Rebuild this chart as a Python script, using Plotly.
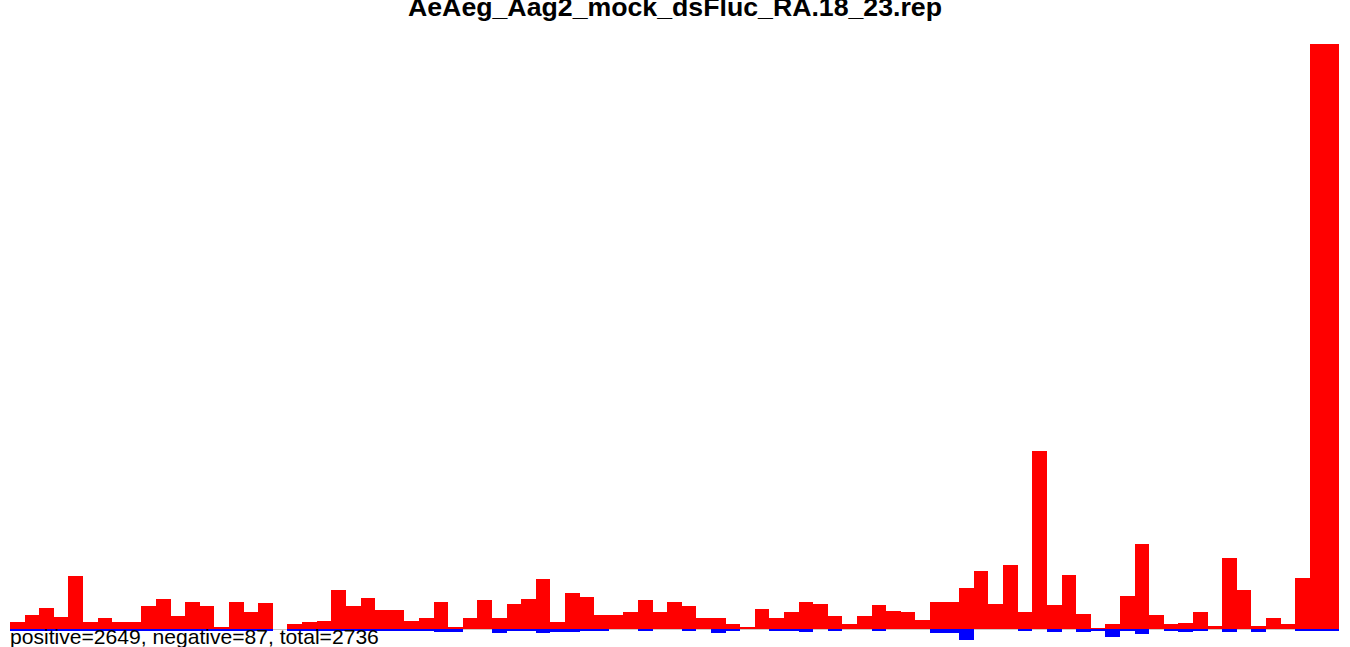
import plotly.graph_objects as go

title_text = "AeAeg_Aag2_mock_dsFluc_RA.18_23.rep"
footer_text = "positive=2649, negative=87, total=2736"

positions = list(range(91))
positive = [6, 12, 18, 10, 44, 6, 9, 6, 6, 19,
            25, 11, 23, 19, 2, 23, 14, 22, 0, 4,
            6, 7, 33, 19, 26, 16, 16, 7, 9, 23,
            2, 9, 24, 9, 21, 25, 42, 6, 30, 27,
            12, 12, 14, 24, 14, 23, 19, 9, 9, 4,
            2, 17, 9, 14, 23, 21, 11, 4, 11, 20,
            15, 14, 8, 23, 23, 34, 48, 21, 53, 14,
            148, 20, 45, 13, 1, 4, 28, 71, 12, 4,
            5, 14, 3, 59, 33, 3, 9, 4, 43, 486,
            486]
negative = [1, 1, 1, 1, 1, 1, 1, 1, 1, 1,
            1, 1, 1, 1, 1, 1, 1, 1, 0, 1,
            1, 1, 1, 1, 1, 1, 1, 1, 1, 2,
            2, 0, 0, 3, 1, 1, 3, 2, 2, 1,
            1, 0, 0, 1, 0, 0, 1, 0, 3, 1,
            0, 0, 1, 1, 2, 0, 1, 0, 0, 1,
            0, 0, 0, 3, 3, 9, 0, 0, 0, 1,
            0, 2, 0, 2, 1, 6, 1, 4, 0, 1,
            2, 1, 0, 2, 0, 2, 0, 0, 1, 1,
            1]
neg_vals = [-v for v in negative]

fig = go.Figure()
fig.add_trace(go.Bar(x=positions, y=positive, marker=dict(color="#FF0000", line=dict(width=0)),
                     showlegend=False, hoverinfo="x+y"))
fig.add_trace(go.Bar(x=positions, y=neg_vals, marker=dict(color="#0000FF", line=dict(width=0)),
                     showlegend=False, hoverinfo="x+y"))

fig.update_layout(
    width=1350, height=647,
    barmode="relative", bargap=0,
    plot_bgcolor="white", paper_bgcolor="white",
    margin=dict(l=10, r=11, t=44, b=0),
    xaxis=dict(range=[-0.5, 90.5], visible=False, showgrid=False, zeroline=False),
    yaxis=dict(range=[-14.7, 486], showgrid=False, showticklabels=False, ticks="",
               zeroline=True, zerolinecolor="#c8c8c8", zerolinewidth=1, showline=False),
    font=dict(family="Liberation Sans, Arial, sans-serif", color="black"),
    annotations=[
        dict(text=title_text, xref="paper", yref="paper", x=0.5, y=1,
             xanchor="center", yanchor="bottom", yshift=20, showarrow=False,
             font=dict(size=26.7, family="Liberation Sans, Arial, sans-serif", weight="bold", color="black")),
        dict(text=footer_text, xref="paper", yref="y", x=0, y=0,
             xanchor="left", yanchor="top", yshift=6.5, xshift=-2, showarrow=False,
             font=dict(size=21.1, family="Liberation Sans, Arial, sans-serif", color="black")),
    ],
)

fig.write_html("out.html", config={"displayModeBar": False},
               post_script="document.body.style.margin='0px';")
